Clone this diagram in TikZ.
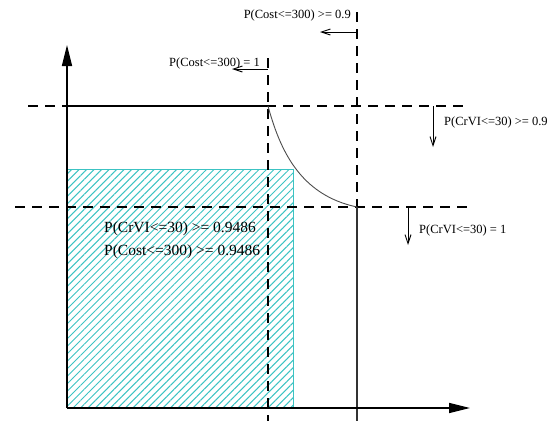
\documentclass[tikz,border=0pt]{standalone}
\usepackage{fontspec}
\setmainfont{Liberation Serif}
\usepackage{tikz}
\usetikzlibrary{arrows.meta,patterns.meta}
\definecolor{hatchcyan}{RGB}{60,195,195}
\tikzset{dashline/.style={dash pattern=on 10pt off 7pt,line width=1.1pt}}
\tikzset{lbl/.style={inner sep=0pt,font=\fontsize{12.5}{14}\selectfont}}
\tikzset{boxlbl/.style={inner sep=0pt,font=\fontsize{15.5}{18}\selectfont}}
\tikzset{bound/.style={->,>={Straight Barb[length=9pt,width=6pt]},line width=0.9pt}}

\begin{document}
\begin{tikzpicture}[x=1pt,y=-1pt]
\useasboundingbox (0,0) rectangle (557,421);
% \draw[help lines] (0,0) grid (557,421);
\coordinate (o) at (67,408);
\coordinate (ytop) at (67,45);
\coordinate (xend) at (470,408);
\coordinate (a) at (268,106);
\coordinate (b) at (357,207);
\coordinate (ct) at (67,169);
\coordinate (c) at (293,169);
\coordinate (cb) at (293,408);
%
\coordinate (h1l) at (28,106);
\coordinate (h1r) at (465,106);
\coordinate (h2l) at (15,207);
\coordinate (h2r) at (470,207);
\coordinate (v1t) at (268,58);
\coordinate (v1b) at (268,421);
\coordinate (v2t) at (357,12);
\coordinate (v2b) at (357,421);
%
\path[pattern={Lines[angle=45,distance=5.3pt,line width=1pt]},pattern color=hatchcyan] (ct) rectangle (cb);
\draw[hatchcyan,line width=1pt] (ct) -- (c) -- (cb);
%
\path[dashline] (h1l) edge (h1r);
\path[dashline] (h2l) edge (h2r);
\path[dashline] (v1t) edge (v1b);
\path[dashline] (v2t) edge (b);
\path[line width=1.3pt,black!80] (b) edge (v2b);
\path[line width=1.3pt] (ct |- a) edge (a);
\draw[line width=0.9pt,black!70] (a) .. controls (280,150) and (300,195) .. (b);
%
\coordinate (p1) at (268,69);
\coordinate (q1) at (232,69);
\coordinate (p2) at (357,32);
\coordinate (q2) at (320,32);
\coordinate (p3) at (433,106);
\coordinate (q3) at (433,147);
\coordinate (p4) at (408,207);
\coordinate (q4) at (408,245);
\path[bound] (p1) edge (q1);
\path[bound] (p2) edge (q2);
\path[bound] (p3) edge (q3);
\path[bound] (p4) edge (q4);
%
\node (costone) [lbl,anchor=east] at (260,63) {P(Cost<=300) = 1};
\node (costnine) [lbl,anchor=east] at (351,15) {P(Cost<=300) >= 0.9};
\node (crvinine) [lbl,anchor=west] at (444,122) {P(CrVI<=30) >= 0.9};
\node (crvione) [lbl,anchor=west] at (419,230) {P(CrVI<=30) = 1};
\node (boxcrvi) [boxlbl,anchor=west] at (104,229) {P(CrVI<=30) >= 0.9486};
\node (boxcost) [boxlbl,anchor=west] at (104,252) {P(Cost<=300) >= 0.9486};
%
\draw[line width=1.4pt,-{Triangle[length=21pt,width=10pt]}] (o) -- (ytop);
\draw[line width=1.4pt,-{Triangle[length=21pt,width=10pt]}] (o) -- (xend);
\end{tikzpicture}
\end{document}
